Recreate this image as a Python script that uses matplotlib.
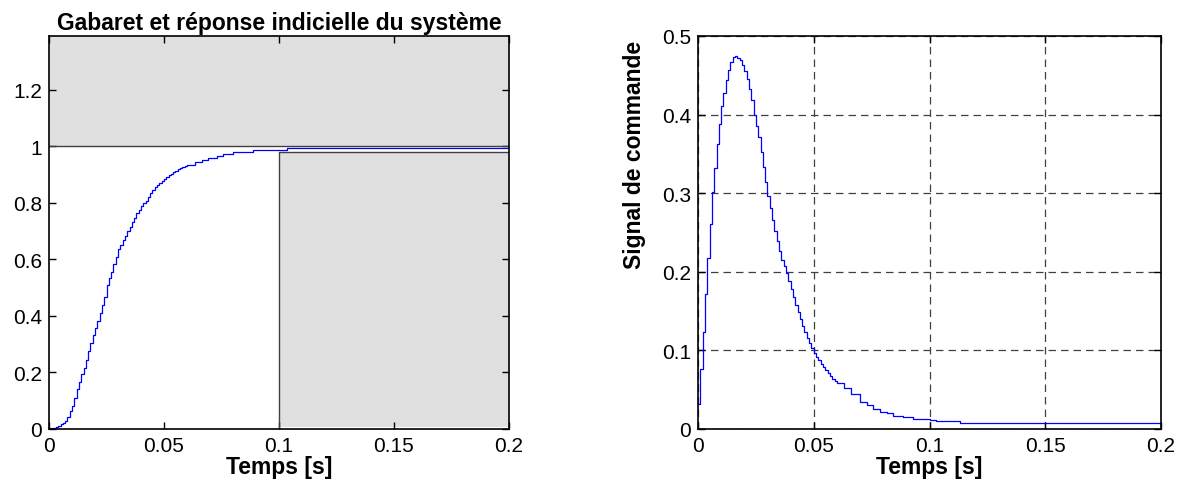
import numpy as np
import matplotlib
matplotlib.use("Agg")
import matplotlib.pyplot as plt
from matplotlib.patches import Rectangle

plt.rcParams['font.family'] = ['Liberation Sans', 'DejaVu Sans']

# Sampling period of the discrete-time simulation
Ts = 0.001

# Step response y(k), sampled every Ts for the first 60 ms
resp_fine = [0.000, 0.002, 0.005, 0.008, 0.012, 0.016, 0.022, 0.030, 0.042, 0.062,
             0.083, 0.110, 0.140, 0.168, 0.195, 0.215, 0.243, 0.275, 0.304, 0.332,
             0.358, 0.383, 0.412, 0.440, 0.466, 0.508, 0.535, 0.556, 0.585, 0.610,
             0.635, 0.652, 0.668, 0.683, 0.699, 0.715, 0.732, 0.748, 0.763, 0.776,
             0.788, 0.798, 0.808, 0.819, 0.833, 0.845, 0.856, 0.864, 0.871, 0.877,
             0.885, 0.891, 0.898, 0.903, 0.908, 0.913, 0.919, 0.922, 0.925, 0.929,
             0.933]
# Slowly varying tail: change instants and held values
resp_tail_t = [0.0635, 0.0664, 0.0693, 0.0730, 0.0758, 0.0802, 0.0845, 0.0889, 0.1033, 0.2]
resp_tail_y = [0.945, 0.952, 0.960, 0.966, 0.972, 0.978, 0.981, 0.987, 0.994, 0.994]

# Control signal u(k), sampled every Ts for the first 60 ms
ctrl_fine = [0.032, 0.076, 0.124, 0.172, 0.218, 0.261, 0.301, 0.332, 0.363, 0.388,
             0.411, 0.428, 0.444, 0.457, 0.467, 0.473, 0.474, 0.472, 0.469, 0.463,
             0.456, 0.445, 0.432, 0.418, 0.399, 0.386, 0.371, 0.352, 0.333, 0.314,
             0.297, 0.281, 0.266, 0.252, 0.239, 0.226, 0.215, 0.207, 0.198, 0.188,
             0.178, 0.168, 0.158, 0.149, 0.140, 0.131, 0.123, 0.116, 0.109, 0.103,
             0.097, 0.092, 0.088, 0.083, 0.079, 0.075, 0.071, 0.068, 0.064, 0.061,
             0.058]
ctrl_tail_t = [0.0630, 0.0660, 0.0700, 0.0728, 0.0757, 0.0786, 0.0815, 0.0843,
               0.0887, 0.0930, 0.1000, 0.1030, 0.1133, 0.2]
ctrl_tail_u = [0.052, 0.045, 0.034, 0.030, 0.025, 0.022, 0.020, 0.017,
               0.015, 0.013, 0.012, 0.010, 0.0076, 0.0076]

# Template (gabarit) limits
upper_limit = 1.0
lower_limit = 0.98
settle_time = 0.1

x_ticks = [0, 0.05, 0.1, 0.15, 0.2]
x_tick_labels = ['0', '0.05', '0.1', '0.15', '0.2']
left_y_ticks = [0, 0.2, 0.4, 0.6, 0.8, 1.0, 1.2]
left_y_labels = ['0', '0.2', '0.4', '0.6', '0.8', '1', '1.2']
right_y_ticks = [0, 0.1, 0.2, 0.3, 0.4, 0.5]
right_y_labels = ['0', '0.1', '0.2', '0.3', '0.4', '0.5']

t_resp = np.concatenate([np.arange(len(resp_fine)) * Ts, resp_tail_t])
y_resp = np.concatenate([resp_fine, resp_tail_y])
t_ctrl = np.concatenate([np.arange(len(ctrl_fine)) * Ts, ctrl_tail_t])
u_ctrl = np.concatenate([ctrl_fine, ctrl_tail_u])

fig = plt.figure(figsize=(11.77, 4.81), dpi=100)
ax1 = fig.add_axes([49 / 1177, 51 / 481, 460 / 1177, 393 / 481])
ax2 = fig.add_axes([698 / 1177, 51 / 481, 463 / 1177, 393 / 481])

TICK_FS = 15
LABEL_FS = 16.5
fill_col = '#e0e0e0'
edge_col = '#404040'

# Left: template and step response
ymax = 1.39
ax1.add_patch(Rectangle((0, upper_limit), 0.2, ymax - upper_limit,
                        facecolor=fill_col, edgecolor='none', zorder=1))
ax1.plot([0, 0.2], [upper_limit, upper_limit], color=edge_col, lw=1.0, zorder=2)
ax1.add_patch(Rectangle((settle_time + 0.0005, 0.006), 0.2 - settle_time, lower_limit - 0.006,
                        facecolor=fill_col, edgecolor='none', zorder=1))
ax1.plot([settle_time, settle_time, 0.2], [0, lower_limit, lower_limit],
         color=edge_col, lw=1.0, zorder=2)
ax1.plot(t_resp, y_resp, drawstyle='steps-post', color='#0000ff', lw=0.9, zorder=3)
ax1.set_xlim(0, 0.2)
ax1.set_ylim(0, ymax)
ax1.set_xticks(x_ticks)
ax1.set_xticklabels(x_tick_labels)
ax1.set_yticks(left_y_ticks)
ax1.set_yticklabels(left_y_labels)
ax1.set_title('Gabaret et réponse indicielle du système', fontsize=16.5,
              fontweight='bold', pad=5)
ax1.set_xlabel('Temps [s]', fontsize=LABEL_FS, fontweight='bold', labelpad=0)

# Right: control signal
ax2.plot(t_ctrl, u_ctrl, drawstyle='steps-post', color='#0000ff', lw=0.9, zorder=3)
ax2.set_xlim(0, 0.2)
ax2.set_ylim(0, 0.5)
ax2.set_xticks(x_ticks)
ax2.set_xticklabels(x_tick_labels)
ax2.set_yticks(right_y_ticks)
ax2.set_yticklabels(right_y_labels)
ax2.grid(True, color='#404040', linestyle=(0, (6, 4)), linewidth=0.9)
ax2.set_axisbelow(True)
ax2.set_xlabel('Temps [s]', fontsize=LABEL_FS, fontweight='bold', labelpad=0)
ax2.set_ylabel('Signal de commande', fontsize=LABEL_FS, fontweight='bold')
ax2.yaxis.set_label_coords(-0.112, 0.70)

for ax in (ax1, ax2):
    for sp in ax.spines.values():
        sp.set_linewidth(1.2)
        sp.set_color('black')
        sp.set_zorder(5)
    ax.tick_params(direction='in', length=5, width=1, top=True, right=True,
                   labelsize=TICK_FS, pad=5)

fig.savefig('out.png', dpi=100)
